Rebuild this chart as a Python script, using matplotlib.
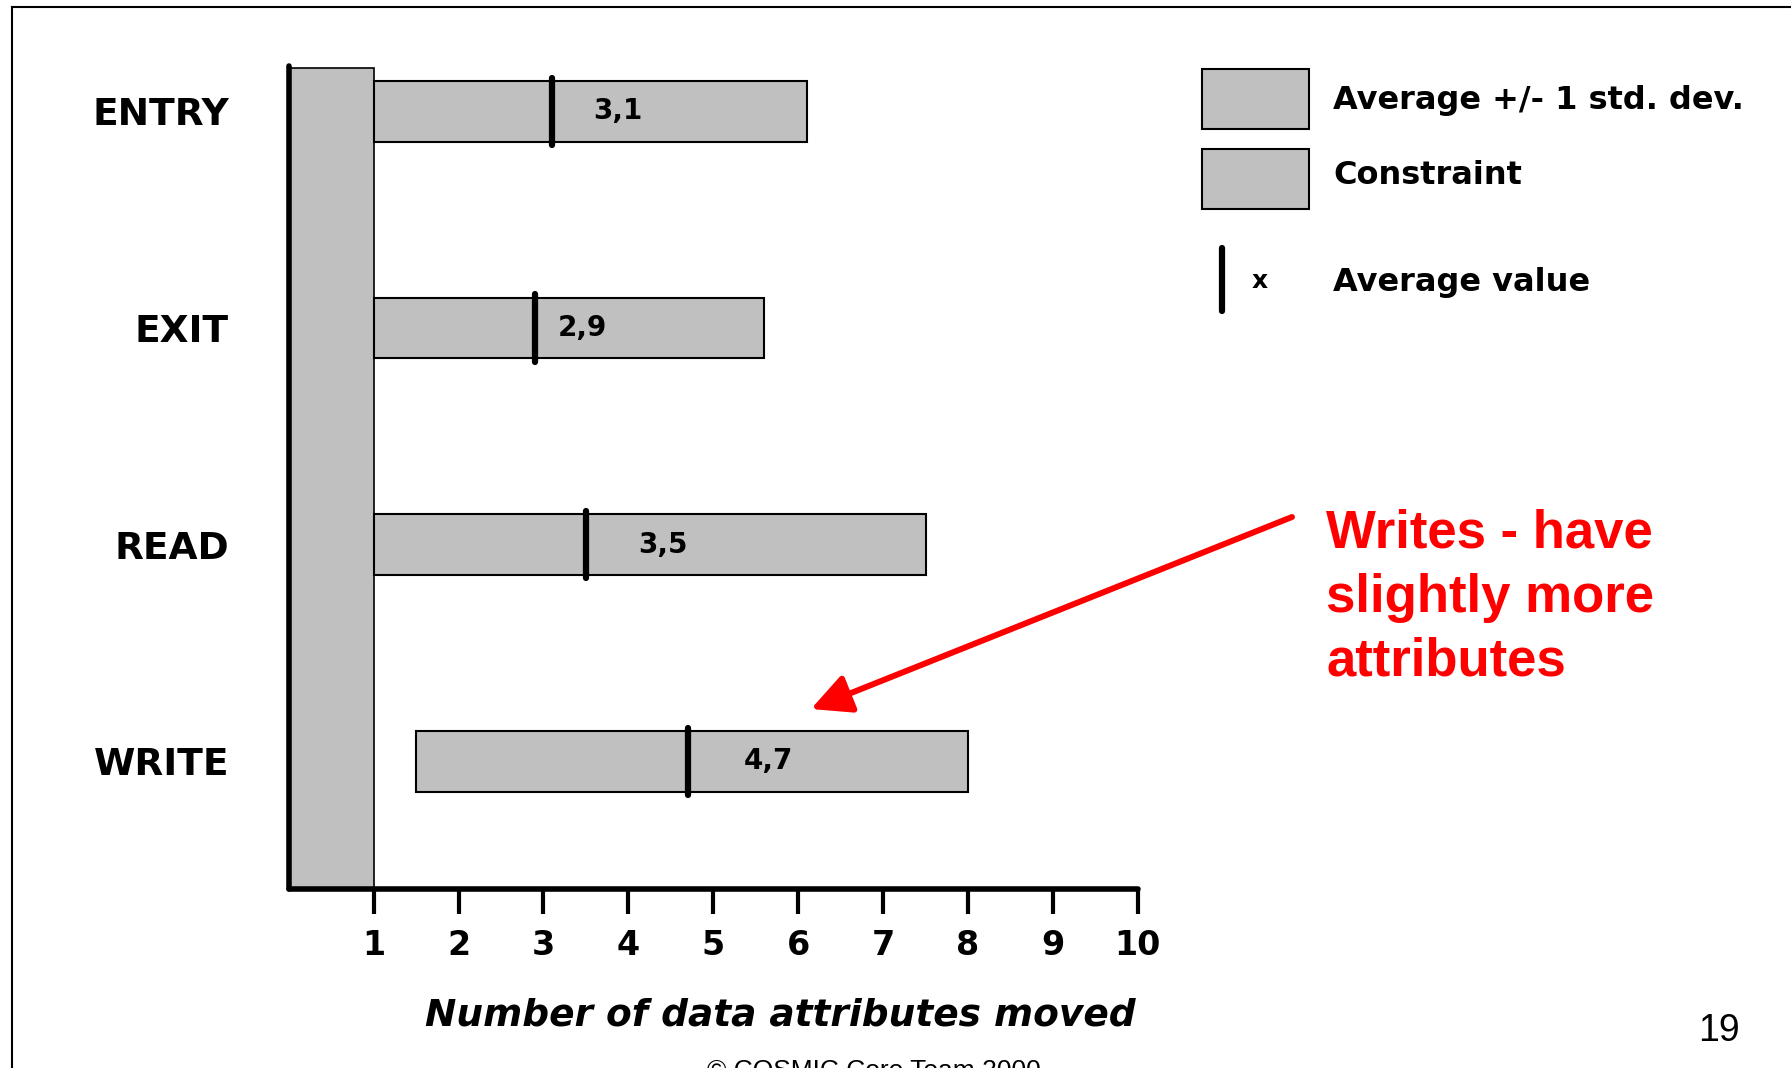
import matplotlib
matplotlib.use("Agg")
import matplotlib.pyplot as plt
from matplotlib.patches import Rectangle, FancyArrowPatch
from matplotlib.lines import Line2D

# data attributes moved per data movement type
categories = ["ENTRY", "EXIT", "READ", "WRITE"]
averages = [3.1, 2.9, 3.5, 4.7]
avg_labels = ["3,1", "2,9", "3,5", "4,7"]
range_low = [1.0, 1.0, 1.0, 1.5]     # average - 1 std. dev. (cut at constraint)
range_high = [6.1, 5.6, 7.5, 8.0]    # average + 1 std. dev.
constraint = (0, 1)
x_ticks = list(range(1, 11))

W, H = 1791, 1068
fig = plt.figure(figsize=(W / 100, H / 100), dpi=100)


def fx(px):
    return px / W


def fy(py):
    return 1 - py / H


GREY = "#c0c0c0"
ax = fig.add_axes([0.1612, 0.168, 0.4741, 0.770])
ypos = list(range(len(categories)))
ax.set_xlim(0, 10)
ax.set_ylim(3.587, -0.208)

# constraint column on the left
ax.axvspan(constraint[0], constraint[1], ymin=0, ymax=0.9974,
           facecolor=GREY, edgecolor="black", lw=1.2, zorder=1)

# +/- 1 std. dev. bars
widths = [h - l for l, h in zip(range_low, range_high)]
ax.barh(ypos, widths, left=range_low, height=0.28, color=GREY,
        edgecolor="black", lw=1.5, zorder=2)

# average markers
ax.vlines(averages, [y - 0.155 for y in ypos], [y + 0.155 for y in ypos],
          colors="black", lw=4.5, capstyle="round", zorder=3)
label_dx = [0.48, 0.27, 0.61, 0.66]
for y, a, lbl, dx in zip(ypos, averages, avg_labels, label_dx):
    ax.text(a + dx, y, lbl, ha="left", va="center", fontsize=20,
            fontweight="bold", zorder=4)

for s in ("top", "right"):
    ax.spines[s].set_visible(False)
for s in ("left", "bottom"):
    ax.spines[s].set_linewidth(4)
    ax.spines[s].set_capstyle("round")
    ax.spines[s].set_zorder(5)

ax.set_xticks(x_ticks)
ax.set_xticklabels([str(t) for t in x_ticks], fontsize=24, fontweight="bold")
ax.tick_params(axis="x", direction="out", length=18, width=3, pad=11)
ax.set_yticks(ypos)
ax.set_yticklabels(categories, fontsize=27, fontweight="bold")
ax.tick_params(axis="y", length=0, pad=43)

fig.text(fx(780), fy(1026), "Number of data attributes moved", ha="center",
         va="baseline", fontsize=27, fontweight="bold", style="italic")

# legend
for top in (68.5, 148.5):
    fig.add_artist(Rectangle((fx(1202), fy(top + 60.5)), 107 / W, 60.5 / H,
                             transform=fig.transFigure, facecolor=GREY,
                             edgecolor="black", lw=1.5))
fig.add_artist(Line2D([fx(1222), fx(1222)], [fy(248), fy(311)], lw=4.5,
                      color="black", solid_capstyle="round",
                      transform=fig.transFigure))
fig.text(fx(1333), fy(100.5), "Average +/- 1 std. dev.", va="center",
         fontsize=23, fontweight="bold")
fig.text(fx(1333), fy(176), "Constraint", va="center", fontsize=23,
         fontweight="bold")
fig.text(fx(1260), fy(281), "x", ha="center", va="center", fontsize=18,
         fontweight="bold")
fig.text(fx(1333), fy(282), "Average value", va="center", fontsize=23,
         fontweight="bold")

# red callout
fig.add_artist(FancyArrowPatch((fx(1292), fy(517)), (fx(811), fy(709)),
                               transform=fig.transFigure,
                               arrowstyle="-|>,head_length=0.8,head_width=0.4",
                               mutation_scale=30, lw=4.3, color="red",
                               shrinkA=0, shrinkB=0, capstyle="round"))
for line, base in zip(["Writes - have", "slightly more", "attributes"],
                      [548, 612, 675]):
    fig.text(fx(1326), fy(base), line, va="baseline", color="red",
             fontsize=38, fontweight="bold", family="Liberation Sans")

# slide furniture
fig.text(fx(1719), fy(1031), "19", ha="center", va="center", fontsize=27,
         family="Liberation Sans")
fig.text(fx(874), -0.009, "\u00a9 COSMIC Core Team 2000", ha="center",
         va="baseline", fontsize=19, family="Liberation Sans")
fig.add_artist(Line2D([fx(11.5), fx(11.5)], [0, fy(7)], lw=1.5,
                      color="black", transform=fig.transFigure))
fig.add_artist(Line2D([fx(11.5), 1], [fy(7), fy(7)], lw=1.5,
                      color="black", transform=fig.transFigure))

fig.savefig("out.png", dpi=100)
